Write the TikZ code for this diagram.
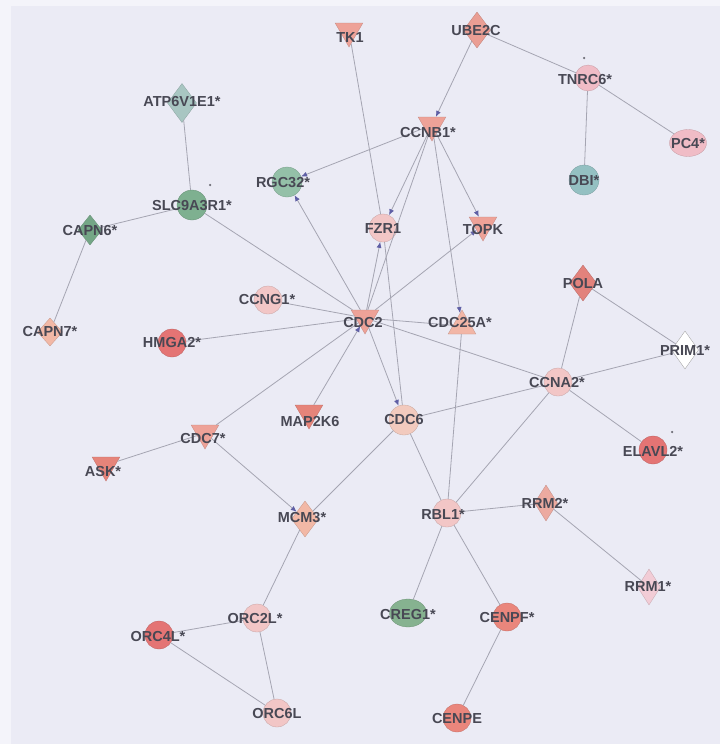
\documentclass[tikz,border=0pt]{standalone}
\usepackage{fontspec}
\setmainfont{Liberation Sans}
\usetikzlibrary{shapes.geometric,arrows.meta}

% palette
\definecolor{bgc}{RGB}{235,235,245}
\definecolor{bgl}{RGB}{244,244,250}
\definecolor{edgec}{RGB}{165,165,178}
\definecolor{arrowc}{RGB}{95,95,165}
\definecolor{labelc}{RGB}{72,72,84}
\definecolor{pinkL}{RGB}{242,198,198}
\definecolor{pinkO}{RGB}{242,202,190}
\definecolor{pinkM}{RGB}{240,188,198}
\definecolor{redC}{RGB}{228,116,116}
\definecolor{redO}{RGB}{234,134,124}
\definecolor{triC}{RGB}{238,162,152}
\definecolor{triL}{RGB}{242,182,166}
\definecolor{triD}{RGB}{230,132,122}
\definecolor{diaC}{RGB}{234,158,148}
\definecolor{diaD}{RGB}{226,130,124}
\definecolor{diaL}{RGB}{242,184,166}
\definecolor{diaM}{RGB}{236,170,160}
\definecolor{diaP}{RGB}{242,204,214}
\definecolor{grnA}{RGB}{126,176,144}
\definecolor{grnB}{RGB}{148,192,168}
\definecolor{grnC}{RGB}{116,166,134}
\definecolor{grnD}{RGB}{134,178,144}
\definecolor{teaA}{RGB}{168,198,194}
\definecolor{teaB}{RGB}{148,192,194}

\tikzset{
  gene/.style={inner sep=0pt, draw=#1!82!black, fill=#1, line width=0.3pt},
  circ/.style={gene=#1, circle, minimum size=28pt},
  oval/.style={gene=#1, ellipse, minimum width=37pt, minimum height=27pt},
  tridown/.style={gene=#1, regular polygon, regular polygon sides=3,
    shape border rotate=180, minimum size=32pt},
  triup/.style={gene=#1, regular polygon, regular polygon sides=3, minimum size=32pt},
  dia/.style={gene=#1, diamond, minimum width=27pt, minimum height=36pt},
  lbl/.style={font=\bfseries\fontsize{14.5}{15}\selectfont, text=labelc, inner sep=0pt},
  link/.style={draw=edgec, line width=0.8pt},
  act/.style={link, -{Latex[length=6pt,width=5pt,color=arrowc]}},
  mark dot/.style={circle, fill=labelc!80, inner sep=0pt, minimum size=2.5pt}
}

\begin{document}
\begin{tikzpicture}[x=1pt,y=-1pt]
\path[use as bounding box] (0,0) rectangle (720,744);
\fill[bgc] (0,0) rectangle (720,744);
\fill[bgl] (0,0) rectangle (11,744);
\fill[bgl] (0,0) rectangle (720,6);

% ---- gene shapes ----
\node[tridown=triC] (tk1)    at (349,31)  {};
\node[dia=diaC]     (ube2c)  at (477,30)  {};
\node[circ=pinkM, minimum size=26pt] (tnrc6) at (588,78) {};
\node[oval=pinkM]   (pc4)    at (688,143) {};
\node[circ=teaB, minimum size=30pt] (dbi) at (584,180) {};
\node[dia=teaA, minimum width=29pt, minimum height=39pt] (atp) at (182,103) {};
\node[circ=grnA, minimum size=30pt] (slc) at (192,205) {};
\node[circ=grnB, minimum size=30pt] (rgc32) at (287,182) {};
\node[dia=grnC, minimum width=24pt, minimum height=30pt] (capn6) at (90,230) {};
\node[dia=diaL, minimum width=25pt, minimum height=28pt] (capn7) at (50,332) {};
\node[tridown=triC] (ccnb1)  at (432,125) {};
\node[circ=pinkL]   (fzr1)   at (383,228) {};
\node[tridown=triC] (topk)   at (483,225) {};
\node[circ=pinkL]   (ccng1)  at (268,300) {};
\node[circ=redC]    (hmga2)  at (172,343) {};
\node[tridown=triC] (cdc2)   at (365,318) {};
\node[triup=triL]   (cdc25a) at (462,326) {};
\node[dia=diaD]     (pola)   at (583,283) {};
\node[dia=white, draw=black!40, minimum height=38pt] (prim1) at (685,350) {};
\node[circ=pinkL]   (ccna2)  at (558,382) {};
\node[tridown=triD] (map2k6) at (309,413) {};
\node[circ=pinkO, minimum size=30pt] (cdc6) at (404,420) {};
\node[tridown=triC] (cdc7)   at (205,433) {};
\node[tridown=triD] (ask)    at (106,465) {};
\node[circ=redC]    (elavl2) at (653,450) {};
\node[dia=diaL]     (mcm3)   at (305,519) {};
\node[circ=pinkL]   (rbl1)   at (447,513) {};
\node[dia=diaM, minimum width=23pt] (rrm2) at (546,503) {};
\node[dia=diaP, minimum width=23pt] (rrm1) at (649,587) {};
\node[circ=pinkL]   (orc2l)  at (257,618) {};
\node[circ=redC]    (orc4l)  at (159,635) {};
\node[circ=pinkL]   (orc6l)  at (277,713) {};
\node[oval=grnD, minimum height=28pt] (creg1) at (408,613) {};
\node[circ=redO]    (cenpf)  at (507,617) {};
\node[circ=redO]    (cenpe)  at (457,718) {};

% ---- interactions ----
\draw[act]  (ube2c) -- (ccnb1);
\draw[link] (ube2c) -- (tnrc6);
\draw[link] (tnrc6) -- (dbi);
\draw[link] (tnrc6) -- (pc4);
\draw[link] (atp) -- (slc);
\draw[link] (slc) -- (capn6);
\draw[link] (capn6) -- (capn7);
\draw[link] (slc) -- (cdc2);
\draw[act]  (ccnb1) -- (rgc32);
\draw[act]  (cdc2) -- (rgc32);
\draw[link] (tk1) -- (fzr1);
\draw[act]  (ccnb1) -- (fzr1);
\draw[act]  (ccnb1) -- (topk);
\draw[link] (ccnb1) -- (cdc2);
\draw[act]  (ccnb1) -- (cdc25a);
\draw[act]  (cdc2) -- (fzr1);
\draw[act]  (cdc2) -- (topk);
\draw[link] (fzr1) -- (cdc6);
\draw[act]  (cdc2) -- (cdc6);
\draw[link] (ccng1) -- (cdc2);
\draw[link] (hmga2) -- (cdc2);
\draw[link] (cdc2) -- (cdc25a);
\draw[link] (cdc2) -- (ccna2);
\draw[link] (cdc7) -- (cdc2);
\draw[act]  (map2k6) -- (cdc2);
\draw[link] (cdc25a) -- (rbl1);
\draw[link] (pola) -- (ccna2);
\draw[link] (pola) -- (prim1);
\draw[link] (prim1) -- (ccna2);
\draw[link] (ccna2) -- (cdc6);
\draw[link] (ccna2) -- (elavl2);
\draw[link] (ccna2) -- (rbl1);
\draw[link] (cdc6) -- (rbl1);
\draw[link] (cdc6) -- (mcm3);
\draw[link] (rbl1) -- (rrm2);
\draw[link] (rrm2) -- (rrm1);
\draw[link] (rbl1) -- (creg1);
\draw[link] (rbl1) -- (cenpf);
\draw[link] (cenpf) -- (cenpe);
\draw[act]  (cdc7) -- (mcm3);
\draw[link] (ask) -- (cdc7);
\draw[link] (mcm3) -- (orc2l);
\draw[link] (orc2l) -- (orc4l);
\draw[link] (orc2l) -- (orc6l);
\draw[link] (orc4l) -- (orc6l);

% ---- small markers ----
\node[mark dot] (dot1) at (210,185) {};
\node[mark dot] (dot2) at (584,58)  {};
\node[mark dot] (dot3) at (672,432) {};

% ---- gene labels ----
\node[lbl] (tk1-t)    at (350,38)  {TK1};
\node[lbl] (ube2c-t)  at (476,31)  {UBE2C};
\node[lbl] (tnrc6-t)  at (585,80)  {TNRC6*};
\node[lbl] (pc4-t)    at (688,144) {PC4*};
\node[lbl] (dbi-t)    at (584,181) {DBI*};
\node[lbl] (atp-t)    at (182,102) {ATP6V1E1*};
\node[lbl] (slc-t)    at (192,206) {SLC9A3R1*};
\node[lbl] (rgc32-t)  at (283,183) {RGC32*};
\node[lbl] (capn6-t)  at (90,231)  {CAPN6*};
\node[lbl] (capn7-t)  at (50,332)  {CAPN7*};
\node[lbl] (ccnb1-t)  at (428,133) {CCNB1*};
\node[lbl] (fzr1-t)   at (383,229) {FZR1};
\node[lbl] (topk-t)   at (483,230) {TOPK};
\node[lbl] (ccng1-t)  at (267,300) {CCNG1*};
\node[lbl] (hmga2-t)  at (172,343) {HMGA2*};
\node[lbl] (cdc2-t)   at (363,323) {CDC2};
\node[lbl] (cdc25a-t) at (460,323) {CDC25A*};
\node[lbl] (pola-t)   at (583,284) {POLA};
\node[lbl] (prim1-t)  at (685,351) {PRIM1*};
\node[lbl] (ccna2-t)  at (557,383) {CCNA2*};
\node[lbl] (map2k6-t) at (310,422) {MAP2K6};
\node[lbl] (cdc6-t)   at (404,420) {CDC6};
\node[lbl] (cdc7-t)   at (203,439) {CDC7*};
\node[lbl] (ask-t)    at (103,472) {ASK*};
\node[lbl] (elavl2-t) at (653,451) {ELAVL2*};
\node[lbl] (mcm3-t)   at (302,518) {MCM3*};
\node[lbl] (rbl1-t)   at (443,515) {RBL1*};
\node[lbl] (rrm2-t)   at (545,503) {RRM2*};
\node[lbl] (rrm1-t)   at (648,587) {RRM1*};
\node[lbl] (orc2l-t)  at (255,619) {ORC2L*};
\node[lbl] (orc4l-t)  at (158,637) {ORC4L*};
\node[lbl] (orc6l-t)  at (277,713) {ORC6L};
\node[lbl] (creg1-t)  at (408,615) {CREG1*};
\node[lbl] (cenpf-t)  at (507,618) {CENPF*};
\node[lbl] (cenpe-t)  at (457,718) {CENPE};
\end{tikzpicture}
\end{document}
